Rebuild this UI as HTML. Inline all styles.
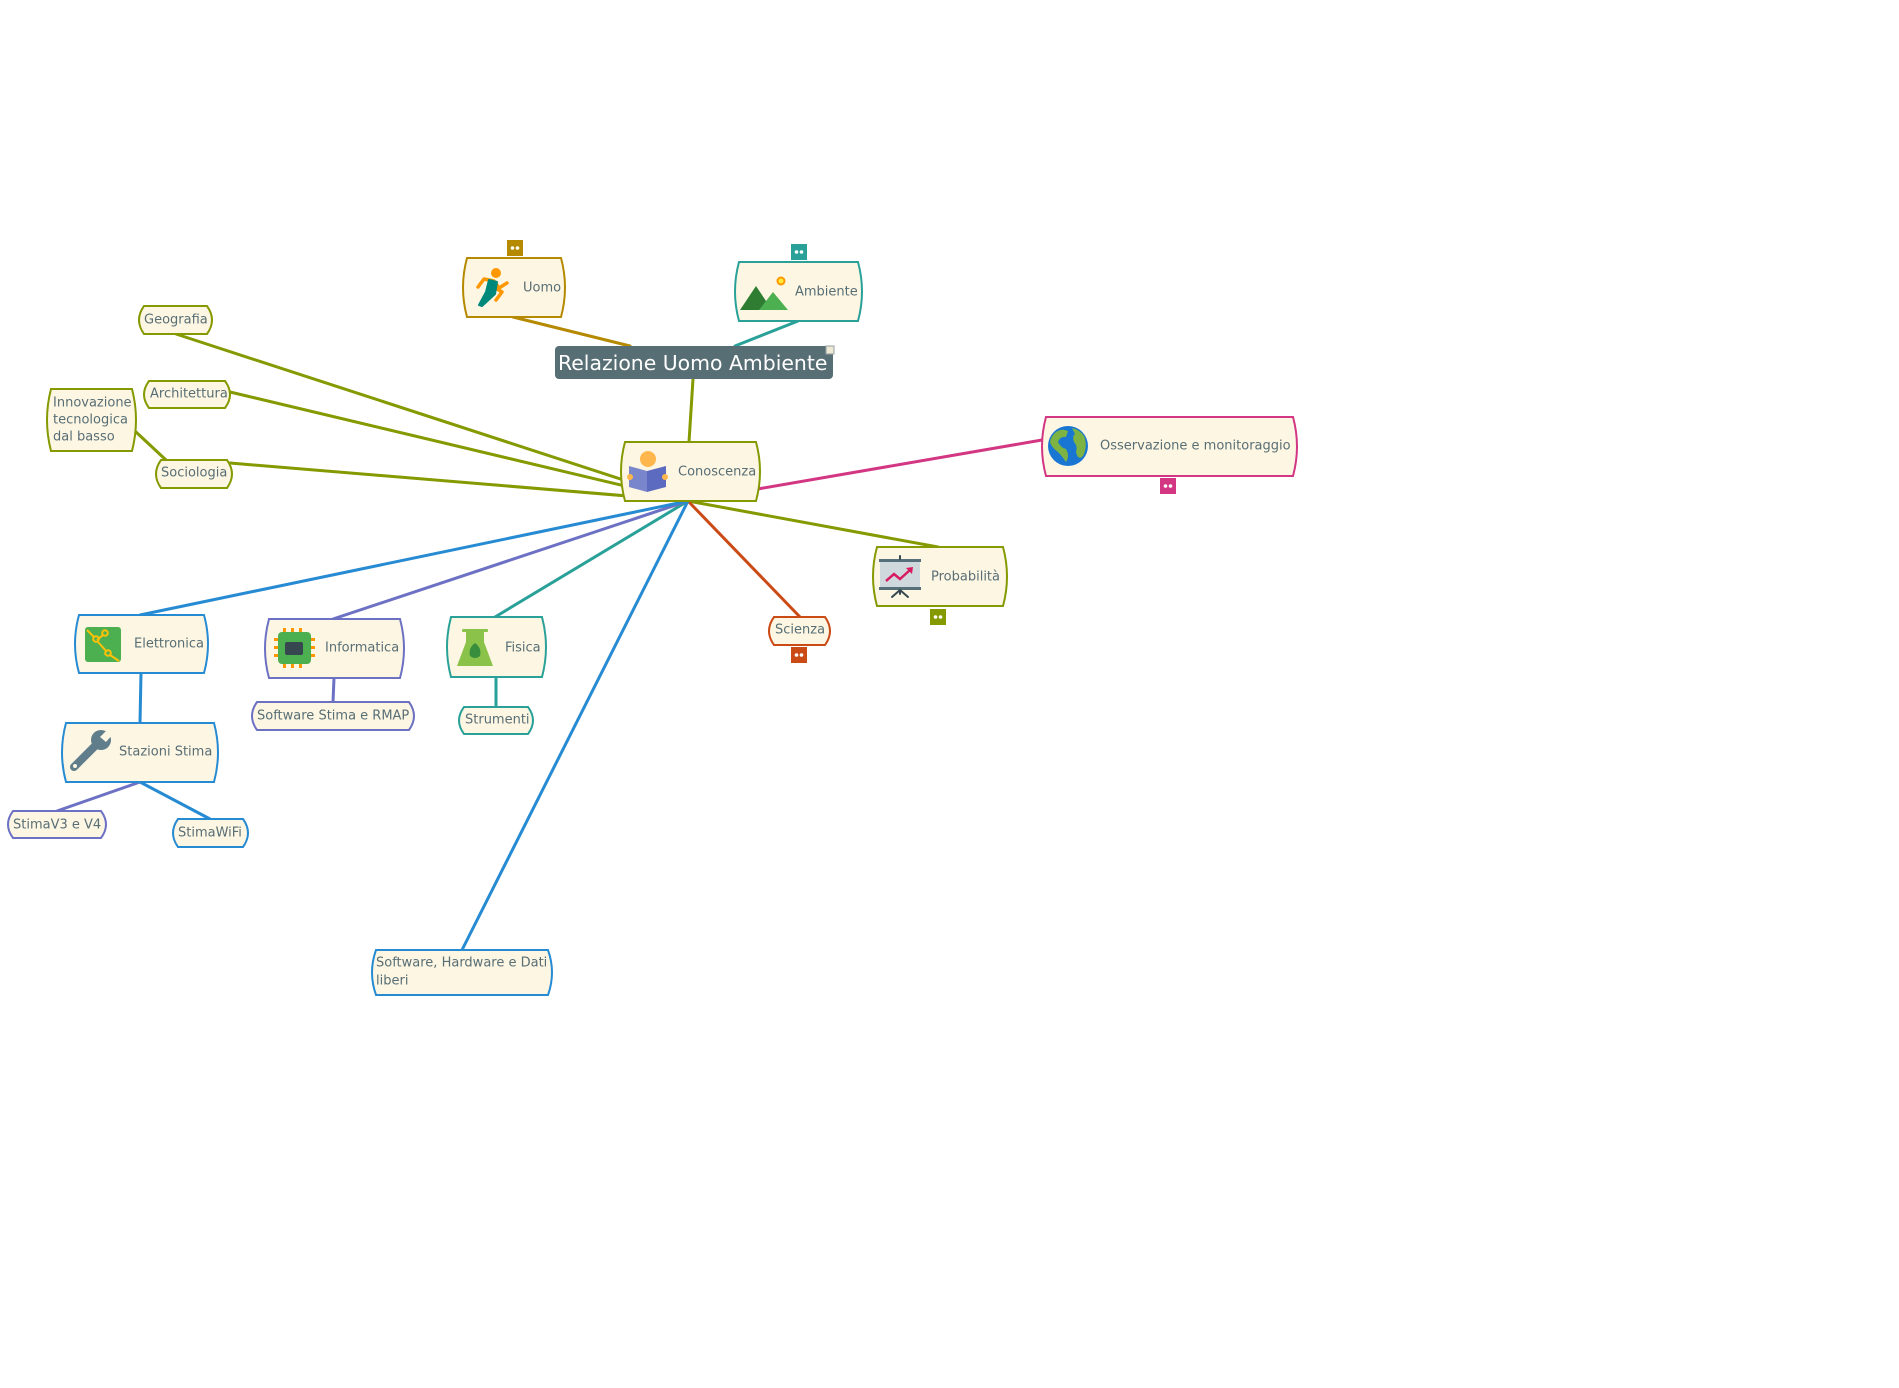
<!DOCTYPE html>
<html><head><meta charset="utf-8"><style>
html,body{margin:0;padding:0;background:#fff;}
svg{display:block;}
text{font-family:"DejaVu Sans","Liberation Sans",sans-serif;font-size:13px;fill:#586e75;}
</style></head><body>
<svg width="1899" height="1388" viewBox="0 0 1899 1388" xmlns="http://www.w3.org/2000/svg">
<rect width="1899" height="1388" fill="#fff"/>
<g fill="none" stroke-width="3" stroke-linecap="round">
<line x1="513" y1="317" x2="630" y2="346" stroke="#b58900"/>
<line x1="798" y1="321" x2="735" y2="346" stroke="#2aa198"/>
<line x1="693" y1="379" x2="689" y2="442" stroke="#859900"/>
<line x1="176" y1="334" x2="688" y2="501" stroke="#859900"/>
<line x1="230" y1="392" x2="688" y2="501" stroke="#859900"/>
<line x1="230" y1="463" x2="688" y2="501" stroke="#859900"/>
<line x1="136" y1="432" x2="166" y2="460" stroke="#859900"/>
<line x1="688" y1="501" x2="1042" y2="440" stroke="#d33682"/>
<line x1="688" y1="501" x2="938" y2="547" stroke="#859900"/>
<line x1="688" y1="501" x2="800" y2="617" stroke="#cb4b16"/>
<line x1="688" y1="501" x2="462" y2="950" stroke="#268bd2"/>
<line x1="688" y1="501" x2="495" y2="617" stroke="#2aa198"/>
<line x1="688" y1="501" x2="333" y2="619" stroke="#6c71c4"/>
<line x1="688" y1="501" x2="140" y2="615" stroke="#268bd2"/>
<line x1="141" y1="673" x2="140" y2="723" stroke="#268bd2"/>
<line x1="334" y1="678" x2="333" y2="702" stroke="#6c71c4"/>
<line x1="496" y1="677" x2="496" y2="707" stroke="#2aa198"/>
<line x1="140" y1="782" x2="57" y2="811" stroke="#6c71c4"/>
<line x1="140" y1="782" x2="210" y2="819" stroke="#268bd2"/>
</g>
<g fill="#fdf6e3" stroke-width="2">
<path d="M467,258 L561,258 Q569,287.5 561,317 L467,317 Q459,287.5 467,258Z" stroke="#b58900"/>
<path d="M739,262 L858,262 Q866,291.5 858,321 L739,321 Q731,291.5 739,262Z" stroke="#2aa198"/>
<path d="M625,442 L756,442 Q764,471.5 756,501 L625,501 Q617,471.5 625,442Z" stroke="#859900"/>
<path d="M1046,417 L1293,417 Q1301,446.5 1293,476 L1046,476 Q1038,446.5 1046,417Z" stroke="#d33682"/>
<path d="M877,547 L1003,547 Q1011,576.5 1003,606 L877,606 Q869,576.5 877,547Z" stroke="#859900"/>
<path d="M774,617 L825,617 Q835,631 825,645 L774,645 Q764,631 774,617Z" stroke="#cb4b16"/>
<path d="M79,615 L204,615 Q212,644 204,673 L79,673 Q71,644 79,615Z" stroke="#268bd2"/>
<path d="M269,619 L400,619 Q408,648.5 400,678 L269,678 Q261,648.5 269,619Z" stroke="#6c71c4"/>
<path d="M451,617 L542,617 Q550,647 542,677 L451,677 Q443,647 451,617Z" stroke="#2aa198"/>
<path d="M257,702 L409,702 Q419,716 409,730 L257,730 Q247,716 257,702Z" stroke="#6c71c4"/>
<path d="M464,707 L528,707 Q538,720.5 528,734 L464,734 Q454,720.5 464,707Z" stroke="#2aa198"/>
<path d="M66,723 L214,723 Q222,752.5 214,782 L66,782 Q58,752.5 66,723Z" stroke="#268bd2"/>
<path d="M13,811 L101,811 Q111,824.5 101,838 L13,838 Q3,824.5 13,811Z" stroke="#6c71c4"/>
<path d="M178,819 L243,819 Q253,833 243,847 L178,847 Q168,833 178,819Z" stroke="#268bd2"/>
<path d="M376,950 L548,950 Q556,972.5 548,995 L376,995 Q368,972.5 376,950Z" stroke="#268bd2"/>
<path d="M144,306 L207,306 Q217,320 207,334 L144,334 Q134,320 144,306Z" stroke="#859900"/>
<path d="M149,381 L225,381 Q235,394.5 225,408 L149,408 Q139,394.5 149,381Z" stroke="#859900"/>
<path d="M51,389 L132,389 Q140,420 132,451 L51,451 Q43,420 51,389Z" stroke="#859900"/>
<path d="M161,460 L227,460 Q237,474 227,488 L161,488 Q151,474 161,460Z" stroke="#859900"/>
</g>
<!-- root -->
<rect x="555" y="346" width="278" height="33" rx="4" fill="#586e75"/>
<rect x="826" y="346" width="8" height="8" fill="#eee8d5" stroke="#93a1a1" stroke-width="1"/>
<text x="558" y="363" dominant-baseline="central" style="font-size:20.4px;fill:#ffffff">Relazione Uomo Ambiente</text>
<!-- badges -->
<g>
<rect x="507" y="240" width="16" height="16" fill="#b58900"/>
<rect x="791" y="244" width="16" height="16" fill="#2aa198"/>
<rect x="1160" y="478" width="16" height="16" fill="#d33682"/>
<rect x="930" y="609" width="16" height="16" fill="#859900"/>
<rect x="791" y="647" width="16" height="16" fill="#cb4b16"/>
</g>
<g fill="#fff">
<circle cx="512.5" cy="248" r="1.8"/><circle cx="517.5" cy="248" r="1.8"/>
<circle cx="796.5" cy="252" r="1.8"/><circle cx="801.5" cy="252" r="1.8"/>
<circle cx="1165.5" cy="486" r="1.8"/><circle cx="1170.5" cy="486" r="1.8"/>
<circle cx="935.5" cy="617" r="1.8"/><circle cx="940.5" cy="617" r="1.8"/>
<circle cx="796.5" cy="655" r="1.8"/><circle cx="801.5" cy="655" r="1.8"/>
</g>
<!-- icons -->
<!-- Uomo runner -->
<g stroke-linecap="round" stroke-linejoin="round" fill="none">
<circle cx="496" cy="273" r="5" fill="#ff9800" stroke="none"/>
<polyline points="478,287 484,279 494,281 499,288 507,283" stroke="#ff9800" stroke-width="3.5"/>
<polyline points="494,287 502,292 496,300" stroke="#ff9800" stroke-width="3.5"/>
<polygon points="489,280 497,282 495,294 482,306 479,305 486,292" fill="#00897b" stroke="#00897b" stroke-width="2"/>
</g>
<!-- Ambiente mountains -->
<polygon points="740,310 756,286 772,310" fill="#2e7d32"/>
<polygon points="759,310 773,292 788,310" fill="#4caf50"/>
<circle cx="781" cy="281" r="4.5" fill="#ff9800"/>
<circle cx="781" cy="281" r="2.5" fill="#ffeb3b"/>
<!-- Conoscenza reader -->
<circle cx="648" cy="459" r="8" fill="#ffb74d"/>
<polygon points="629,466 647,471 647,492 629,487" fill="#7986cb"/>
<polygon points="647,471 666,466 666,487 647,492" fill="#5c6bc0"/>
<circle cx="630" cy="477" r="3" fill="#ffb74d"/>
<circle cx="665" cy="477" r="3" fill="#ffb74d"/>
<!-- Globe -->
<circle cx="1068" cy="446" r="20" fill="#1976d2"/>
<path d="M1056,432 Q1062,428 1068,431 L1066,437 Q1060,436 1058,442 Q1061,448 1066,449 Q1070,456 1066,462 Q1062,456 1058,452 Q1052,448 1050,442 Q1051,436 1056,432Z" fill="#7cb342"/>
<path d="M1072,428 Q1080,430 1084,436 Q1088,446 1083,456 Q1078,461 1076,452 Q1078,446 1074,442 Q1072,436 1075,434Z" fill="#7cb342"/>
<!-- Probabilita board -->
<rect x="879" y="559" width="42" height="3" fill="#546e7a"/>
<rect x="880" y="562" width="40" height="25" fill="#cfd8dc"/>
<rect x="879" y="587" width="42" height="3" fill="#546e7a"/>
<g stroke="#37474f" stroke-width="2" stroke-linecap="round"><line x1="900" y1="590" x2="892" y2="597"/><line x1="900" y1="590" x2="908" y2="597"/><line x1="900" y1="590" x2="900" y2="594"/><line x1="900" y1="559" x2="900" y2="556"/></g>
<polyline points="886,581 894,574 900,579 910,570" fill="none" stroke="#d81b60" stroke-width="2.5"/>
<polygon points="906,568 913,567 912,574" fill="#d81b60"/>
<!-- Elettronica -->
<rect x="85" y="627" width="36" height="35" rx="3" fill="#4caf50"/>
<g stroke="#ffc107" stroke-width="2" fill="none"><line x1="87" y1="630" x2="94" y2="637"/><line x1="97" y1="640" x2="103" y2="635"/><line x1="98" y1="642" x2="107" y2="652"/><line x1="110" y1="655" x2="119" y2="661"/><circle cx="96" cy="639" r="2.8"/><circle cx="105" cy="633" r="2.8"/><circle cx="108" cy="653" r="2.8"/></g>
<!-- Informatica chip -->
<g fill="#ff9800">
<rect x="283" y="628" width="3" height="5"/><rect x="291" y="628" width="3" height="5"/><rect x="299" y="628" width="3" height="5"/>
<rect x="283" y="663" width="3" height="5"/><rect x="291" y="663" width="3" height="5"/><rect x="299" y="663" width="3" height="5"/>
<rect x="274" y="638" width="5" height="3"/><rect x="274" y="646" width="5" height="3"/><rect x="274" y="654" width="5" height="3"/>
<rect x="310" y="638" width="5" height="3"/><rect x="310" y="646" width="5" height="3"/><rect x="310" y="654" width="5" height="3"/>
</g>
<rect x="278" y="632" width="33" height="32" rx="4" fill="#4caf50"/>
<rect x="285" y="642" width="18" height="13" rx="2" fill="#37474f"/>
<!-- Fisica flask -->
<rect x="462" y="629" width="26" height="3" rx="1" fill="#8bc34a"/>
<path d="M466,632 L484,632 L484,642 L493,666 L457,666 L466,642Z" fill="#8bc34a"/>
<path d="M475,643 Q468,648 470,656 Q475,660 480,656 Q482,648 475,643Z" fill="#388e3c"/>
<!-- Stazioni wrench -->
<g stroke="#607d8b" stroke-linecap="round"><line x1="74" y1="767" x2="97" y2="744" stroke-width="8"/></g>
<circle cx="101" cy="740" r="10" fill="#607d8b"/>
<polygon points="100,737 108,729 114,733 106,742" fill="#fdf6e3"/>
<circle cx="75" cy="766" r="2" fill="#fdf6e3"/>
<!-- labels -->
<g dominant-baseline="central">
<text x="523" y="288">Uomo</text>
<text x="795" y="292">Ambiente</text>
<text x="678" y="472">Conoscenza</text>
<text x="1100" y="446">Osservazione e monitoraggio</text>
<text x="931" y="577">Probabilità</text>
<text x="775" y="630">Scienza</text>
<text x="134" y="644">Elettronica</text>
<text x="325" y="648">Informatica</text>
<text x="505" y="648">Fisica</text>
<text x="257" y="716">Software Stima e RMAP</text>
<text x="465" y="720">Strumenti</text>
<text x="119" y="752">Stazioni Stima</text>
<text x="13" y="825">StimaV3 e V4</text>
<text x="178" y="833">StimaWiFi</text>
<text x="376" y="963">Software, Hardware e Dati</text>
<text x="376" y="981">liberi</text>
<text x="144" y="320">Geografia</text>
<text x="150" y="394">Architettura</text>
<text x="53" y="403">Innovazione</text>
<text x="53" y="420">tecnologica</text>
<text x="53" y="437">dal basso</text>
<text x="161" y="473">Sociologia</text>
</g>
</svg>
</body></html>
